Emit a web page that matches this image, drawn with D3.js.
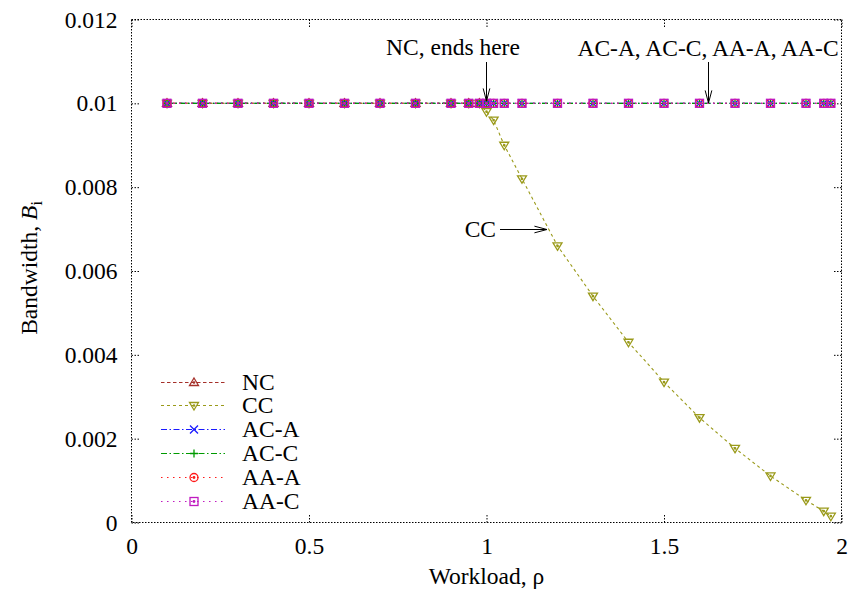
<!DOCTYPE html>
<html>
<head>
<meta charset="utf-8">
<script src="https://cdn.jsdelivr.net/npm/d3@7"></script>
<style>
  body { margin: 0; background: #fff; }
  text { font-family: "Liberation Serif", "Times New Roman", serif; fill: #000; }
</style>
</head>
<body>
<div id="chart"></div>
<script>
// workload values (x) shared by the flat series
var rho = [0.1, 0.2, 0.3, 0.4, 0.5, 0.6, 0.7, 0.8, 0.9, 0.95, 0.98, 1.0, 1.02, 1.05,
           1.1, 1.2, 1.3, 1.4, 1.5, 1.6, 1.7, 1.8, 1.9, 1.95, 1.97];
var rhoNC = [0.1, 0.2, 0.3, 0.4, 0.5, 0.6, 0.7, 0.8, 0.9, 0.95, 0.98, 1.0];

var bwNC = [0.01, 0.01, 0.01, 0.01, 0.01, 0.01, 0.01, 0.01, 0.01, 0.01, 0.01, 0.01];
var bwCC = [0.01, 0.01, 0.01, 0.01, 0.01, 0.01, 0.01, 0.01, 0.01, 0.01, 0.01, 0.0098, 0.0096, 0.0090,
            0.0082, 0.0066, 0.0054, 0.0043, 0.00335, 0.0025, 0.00177, 0.00111, 0.00053, 0.00027, 0.00015];
var bwACA = [0.01, 0.01, 0.01, 0.01, 0.01, 0.01, 0.01, 0.01, 0.01, 0.01, 0.01, 0.01, 0.01, 0.01,
             0.01, 0.01, 0.01, 0.01, 0.01, 0.01, 0.01, 0.01, 0.01, 0.01, 0.01];
var bwACC = [0.01, 0.01, 0.01, 0.01, 0.01, 0.01, 0.01, 0.01, 0.01, 0.01, 0.01, 0.01, 0.01, 0.01,
             0.01, 0.01, 0.01, 0.01, 0.01, 0.01, 0.01, 0.01, 0.01, 0.01, 0.01];
var bwAAA = [0.01, 0.01, 0.01, 0.01, 0.01, 0.01, 0.01, 0.01, 0.01, 0.01, 0.01, 0.01, 0.01, 0.01,
             0.01, 0.01, 0.01, 0.01, 0.01, 0.01, 0.01, 0.01, 0.01, 0.01, 0.01];
var bwAAC = [0.01, 0.01, 0.01, 0.01, 0.01, 0.01, 0.01, 0.01, 0.01, 0.01, 0.01, 0.01, 0.01, 0.01,
             0.01, 0.01, 0.01, 0.01, 0.01, 0.01, 0.01, 0.01, 0.01, 0.01, 0.01];

var xTicks = [0, 0.5, 1, 1.5, 2];
var xTickLabels = ["0", "0.5", "1", "1.5", "2"];
var yTicks = [0, 0.002, 0.004, 0.006, 0.008, 0.01, 0.012];
var yTickLabels = ["0", "0.002", "0.004", "0.006", "0.008", "0.01", "0.012"];

var seriesNames = ["NC", "CC", "AC-A", "AC-C", "AA-A", "AA-C"];

var series = [
  {name: "NC",   xs: rhoNC, ys: bwNC,  color: "#a5302a", dash: "3.5,2.5",       mark: "triUp"},
  {name: "CC",   xs: rho,   ys: bwCC,  color: "#9a9a1a", dash: "3,3",           mark: "triDown"},
  {name: "AC-A", xs: rho,   ys: bwACA, color: "#1a1aff", dash: "6,2.5,1.5,2.5", mark: "cross"},
  {name: "AC-C", xs: rho,   ys: bwACC, color: "#009a00", dash: "6,2.5,1.5,2.5", mark: "plus"},
  {name: "AA-A", xs: rho,   ys: bwAAA, color: "#ff1a1a", dash: "1.5,4.5",       mark: "circle"},
  {name: "AA-C", xs: rho,   ys: bwAAC, color: "#c01ac0", dash: "1.5,4.5",       mark: "square"}
];

var W = 852, H = 598;
var plotL = 131.5, plotR = 841.5, plotT = 19.5, plotB = 522.5;
var fontSize = "23.5px";

var x = d3.scaleLinear().domain([0, 2]).range([plotL, plotR]);
var y = d3.scaleLinear().domain([0, 0.012]).range([plotB, plotT]);

var svg = d3.select("#chart").append("svg")
    .attr("width", W)
    .attr("height", H);

// dotted border
svg.append("rect")
    .attr("x", plotL).attr("y", plotT)
    .attr("width", plotR - plotL).attr("height", plotB - plotT)
    .attr("fill", "none")
    .attr("stroke", "#000")
    .attr("stroke-width", 1)
    .attr("stroke-dasharray", "1.5,1.5");

function styleAxis(g) {
  g.select(".domain").remove();
  g.selectAll(".tick line")
      .attr("stroke", "#000")
      .attr("stroke-dasharray", "1.5,1.5");
  g.selectAll(".tick text")
      .style("font-size", fontSize)
      .style("font-family", "Liberation Serif");
}

var tickLen = 9;

// bottom + top x ticks
svg.append("g")
    .attr("transform", `translate(0,${plotB})`)
    .call(d3.axisBottom(x).tickValues(xTicks).tickSizeInner(-tickLen).tickSizeOuter(0)
          .tickPadding(15).tickFormat((d, i) => xTickLabels[i]))
    .call(styleAxis);
svg.append("g")
    .attr("transform", `translate(0,${plotT})`)
    .call(d3.axisTop(x).tickValues(xTicks).tickSizeInner(-tickLen).tickSizeOuter(0).tickFormat(""))
    .call(styleAxis);

// left + right y ticks
svg.append("g")
    .attr("transform", `translate(${plotL},0)`)
    .call(d3.axisLeft(y).tickValues(yTicks).tickSizeInner(-tickLen).tickSizeOuter(0)
          .tickPadding(14).tickFormat((d, i) => yTickLabels[i]))
    .call(styleAxis);
svg.append("g")
    .attr("transform", `translate(${plotR},0)`)
    .call(d3.axisRight(y).tickValues(yTicks).tickSizeInner(-tickLen).tickSizeOuter(0).tickFormat(""))
    .call(styleAxis);

// axis labels
svg.append("text")
    .attr("x", x(1)).attr("y", 584)
    .attr("text-anchor", "middle")
    .style("font-size", fontSize)
    .text("Workload, ρ");

var yl = svg.append("text")
    .attr("transform", "translate(37,268) rotate(-90)")
    .attr("text-anchor", "middle")
    .style("font-size", fontSize);
yl.append("tspan").text("Bandwidth, ");
yl.append("tspan").style("font-style", "italic").text("B");
yl.append("tspan").attr("dy", 5).style("font-size", "16px").text("i");

// marker drawing
function drawMark(g, type, cx, cy, color) {
  var s = 4;
  var m = g.append("g").attr("transform", `translate(${cx},${cy})`)
      .attr("fill", "none").attr("stroke", color).attr("stroke-width", 1.3);
  if (type === "triUp") {
    m.append("path").attr("d", `M0,${-s - 0.5}L${s + 0.5},${s - 1}L${-s - 0.5},${s - 1}Z`);
    m.append("circle").attr("r", 0.7).attr("fill", color);
  } else if (type === "triDown") {
    m.append("path").attr("d", `M0,${s + 0.5}L${s + 0.5},${-s + 1}L${-s - 0.5},${-s + 1}Z`);
    m.append("circle").attr("r", 0.7).attr("fill", color);
  } else if (type === "cross") {
    m.append("path").attr("d", `M${-s},${-s}L${s},${s}M${-s},${s}L${s},${-s}`);
  } else if (type === "plus") {
    m.append("path").attr("d", `M${-s},0L${s},0M0,${-s}L0,${s}`);
  } else if (type === "circle") {
    m.append("circle").attr("r", s);
    m.append("circle").attr("r", 0.8).attr("fill", color);
  } else if (type === "square") {
    m.append("rect").attr("x", -s).attr("y", -s).attr("width", 2 * s).attr("height", 2 * s);
    m.append("circle").attr("r", 0.8).attr("fill", color);
  }
}

var line = d3.line().x(d => x(d[0])).y(d => y(d[1]));

series.forEach(function(sr) {
  var pts = sr.xs.map((v, i) => [v, sr.ys[i]]);
  svg.append("path")
      .datum(pts)
      .attr("d", line)
      .attr("fill", "none")
      .attr("stroke", sr.color)
      .attr("stroke-width", 1.1)
      .attr("stroke-dasharray", sr.dash);
  var mg = svg.append("g");
  pts.forEach(p => drawMark(mg, sr.mark, x(p[0]), y(p[1]), sr.color));
});

// legend
var legRows = [382, 405, 429, 453, 477, 501];
series.forEach(function(sr, i) {
  var ly = legRows[i] + 0.5;
  svg.append("line")
      .attr("x1", 161).attr("x2", 225)
      .attr("y1", ly).attr("y2", ly)
      .attr("stroke", sr.color)
      .attr("stroke-width", 1.1)
      .attr("stroke-dasharray", sr.dash);
  drawMark(svg, sr.mark, 194, ly, sr.color);
  svg.append("text")
      .attr("x", 242).attr("y", legRows[i] + 8)
      .style("font-size", fontSize)
      .text(seriesNames[i]);
});

// annotations with arrows
function arrow(x1, y1, x2, y2) {
  var g = svg.append("g").attr("stroke", "#000").attr("stroke-width", 1).attr("fill", "none");
  g.append("line").attr("x1", x1).attr("y1", y1).attr("x2", x2).attr("y2", y2);
  var ang = Math.atan2(y2 - y1, x2 - x1);
  var len = 13, spread = 0.26;
  var a1 = ang + Math.PI - spread, a2 = ang + Math.PI + spread;
  g.append("path").attr("d",
    `M${x2 + len * Math.cos(a1)},${y2 + len * Math.sin(a1)}L${x2},${y2}L${x2 + len * Math.cos(a2)},${y2 + len * Math.sin(a2)}`);
}

svg.append("text").attr("x", 453).attr("y", 55)
    .attr("text-anchor", "middle").style("font-size", fontSize)
    .text("NC, ends here");
arrow(x(1), 62, x(1), 101);

svg.append("text").attr("x", 708).attr("y", 56)
    .attr("text-anchor", "middle").style("font-size", fontSize)
    .text("AC-A, AC-C, AA-A, AA-C");
arrow(708.5, 62, 708.5, 103);

svg.append("text").attr("x", 496).attr("y", 237)
    .attr("text-anchor", "end").style("font-size", fontSize)
    .text("CC");
arrow(500, 229.5, 547, 229.5);
</script>
</body>
</html>
